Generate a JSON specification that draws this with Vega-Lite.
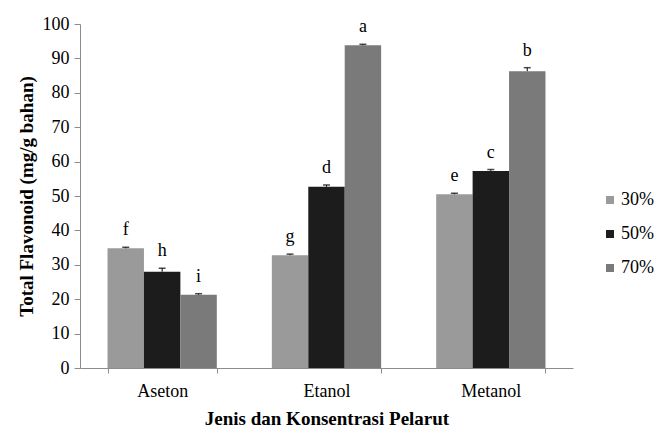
{
  "$schema": "https://vega.github.io/schema/vega-lite/v6.json",
  "autosize": "none",
  "width": 493,
  "height": 344,
  "padding": {"left": 80, "top": 24, "right": 82, "bottom": 63},
  "background": "white",
  "config": {
    "view": {"stroke": null},
    "font": "Liberation Serif",
    "style": {
      "guide-label": {"font": "Liberation Serif"},
      "guide-title": {"font": "Liberation Serif"}
    },
    "axis": {
      "labelFont": "Liberation Serif",
      "labelFontSize": 18,
      "labelColor": "black",
      "titleFont": "Liberation Serif",
      "titleFontSize": 19,
      "titleFontWeight": "bold",
      "titleColor": "black",
      "domainColor": "#8c8c8c",
      "tickColor": "#8c8c8c",
      "grid": false,
      "labelOverlap": false
    },
    "axisY": {
      "title": "Total Flavonoid (mg/g bahan)",
      "values": [0, 10, 20, 30, 40, 50, 60, 70, 80, 90, 100],
      "tickCount": 11,
      "tickSize": 6,
      "labelPadding": 5,
      "titlePadding": 6
    },
    "legend": {
      "labelFont": "Liberation Serif",
      "labelFontSize": 18,
      "labelColor": "black"
    }
  },
  "data": {
    "values": [
      {"pelarut": "Aseton", "konsentrasi": "30%", "flavonoid": 34.8, "sd": 0.3, "notasi": "f"},
      {"pelarut": "Aseton", "konsentrasi": "50%", "flavonoid": 28.0, "sd": 1.0, "notasi": "h"},
      {"pelarut": "Aseton", "konsentrasi": "70%", "flavonoid": 21.3, "sd": 0.3, "notasi": "i"},
      {"pelarut": "Etanol", "konsentrasi": "30%", "flavonoid": 32.8, "sd": 0.3, "notasi": "g"},
      {"pelarut": "Etanol", "konsentrasi": "50%", "flavonoid": 52.7, "sd": 0.5, "notasi": "d"},
      {"pelarut": "Etanol", "konsentrasi": "70%", "flavonoid": 93.8, "sd": 0.3, "notasi": "a"},
      {"pelarut": "Metanol", "konsentrasi": "30%", "flavonoid": 50.5, "sd": 0.3, "notasi": "e"},
      {"pelarut": "Metanol", "konsentrasi": "50%", "flavonoid": 57.3, "sd": 0.4, "notasi": "c"},
      {"pelarut": "Metanol", "konsentrasi": "70%", "flavonoid": 86.3, "sd": 1.0, "notasi": "b"}
    ]
  },
  "transform": [
    {"calculate": "datum.flavonoid + datum.sd", "as": "atas"}
  ],
  "encoding": {
    "x": {
      "field": "pelarut",
      "type": "nominal",
      "sort": ["Aseton", "Etanol", "Metanol"],
      "scale": {"paddingInner": 0.335, "paddingOuter": 0.1675},
      "axis": {
        "title": "Jenis dan Konsentrasi Pelarut",
        "labelAngle": 0,
        "tickBand": "extent",
        "tickSize": 5,
        "labelPadding": 9,
        "titlePadding": 9
      }
    },
    "xOffset": {
      "field": "konsentrasi",
      "type": "nominal",
      "sort": ["30%", "50%", "70%"],
      "scale": {"paddingInner": 0, "paddingOuter": 0}
    }
  },
  "layer": [
    {
      "mark": {"type": "bar"},
      "encoding": {
        "y": {
          "field": "flavonoid",
          "type": "quantitative",
          "scale": {"domain": [0, 100], "nice": false},
          "title": "Total Flavonoid (mg/g bahan)"
        },
        "color": {
          "field": "konsentrasi",
          "type": "nominal",
          "sort": ["30%", "50%", "70%"],
          "scale": {"range": ["#9a9a9a", "#1c1c1c", "#7a7a7a"]},
          "legend": {
            "title": null,
            "orient": "none",
            "legendX": 521,
            "legendY": 167,
            "symbolType": "square",
            "symbolSize": 64,
            "symbolStrokeWidth": 0,
            "rowPadding": 16,
            "labelOffset": 2,
            "labelFont": "Liberation Serif",
            "labelFontSize": 18,
            "encode": {
              "labels": {
                "update": {
                  "font": {"value": "Liberation Serif"},
                  "fontSize": {"value": 18}
                }
              }
            }
          }
        }
      }
    },
    {
      "mark": {"type": "rule", "color": "black", "strokeWidth": 1},
      "encoding": {
        "y": {"field": "flavonoid", "type": "quantitative", "title": "Total Flavonoid (mg/g bahan)"},
        "y2": {"field": "atas"}
      }
    },
    {
      "mark": {"type": "tick", "color": "black", "thickness": 1.5, "size": 7},
      "encoding": {
        "y": {"field": "atas", "type": "quantitative", "title": "Total Flavonoid (mg/g bahan)"}
      }
    },
    {
      "mark": {"type": "text", "font": "Liberation Serif", "fontSize": 18, "color": "black", "baseline": "alphabetic", "dy": -12},
      "encoding": {
        "y": {"field": "atas", "type": "quantitative", "title": "Total Flavonoid (mg/g bahan)"},
        "text": {"field": "notasi"}
      }
    }
  ]
}
